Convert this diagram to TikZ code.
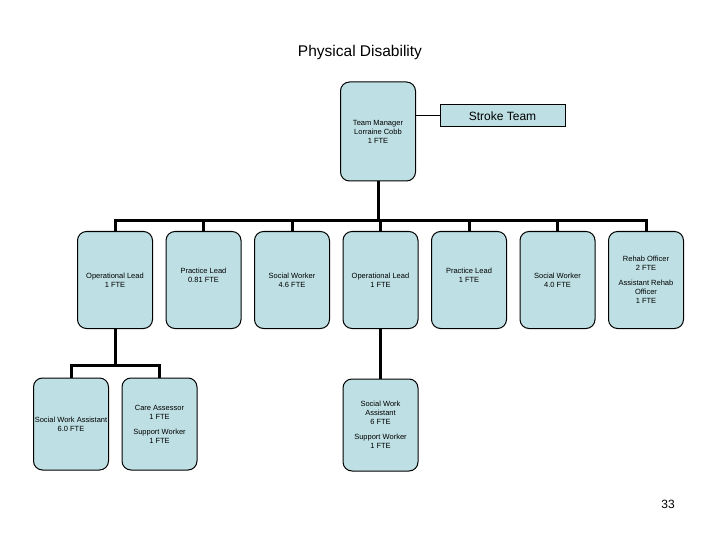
\documentclass[tikz,border=0pt]{standalone}
\usepackage{fontspec}
\setmainfont{Liberation Sans}
\usetikzlibrary{positioning,calc}
\definecolor{BoxBlue}{HTML}{BEDFE3}

\begin{document}
\begin{tikzpicture}[
    x=1pt, y=-1pt,
    font=\fontsize{7.5}{9}\selectfont,
    node distance=12.5pt,
    % rounded post boxes of the chart
    post/.style={rectangle, rounded corners=9pt, draw=black, line width=1pt, fill=BoxBlue, minimum width=75pt, minimum height=97pt, inner sep=0pt, align=center},
    banner/.style={rectangle, draw=black, line width=1pt, fill=BoxBlue, minimum width=125pt, minimum height=22pt, font=\fontsize{12}{14}\selectfont},
    link/.style={line width=3pt, draw=black},
    tie/.style={line width=1pt, draw=black}
]
\useasboundingbox (0,0) rectangle (720,540);

\node[font=\fontsize{15.5}{18}\selectfont] (title) at (360,52) {Physical Disability};

% top of the chart
\node[post, minimum height=99pt] (mgr) at (378,131.5) {Team Manager\\Lorraine Cobb\\1 FTE};
\node[banner] (stroke) at (502.5,116) {Stroke Team};
\draw[tie] (stroke.west) -- (stroke.west -| mgr.east);

% second row
\node[post] (opA) at (115,280) {Operational Lead\\1 FTE};
\node[post, right=of opA] (prA) {Practice Lead\\0.81 FTE\\[0pt]};
\node[post, right=of prA] (swA) {Social Worker\\4.6 FTE};
\node[post, right=of swA] (opB) {Operational Lead\\1 FTE};
\node[post, right=of opB] (prB) {Practice Lead\\1 FTE\\[0pt]};
\node[post, right=of prB] (swB) {Social Worker\\4.0 FTE};
\node[post, right=of swB] (rehab) {Rehab Officer\\2 FTE\\[6pt]Assistant Rehab\\Officer\\1 FTE};

\coordinate (busTop) at (0,221);
\foreach \n in {opA,prA,swA,opB,prB,swB,rehab}
    \draw[link] (mgr.south) |- (\n.north |- busTop) -- (\n.north);

% third row
\node[post, minimum height=92pt] (swaA) at (71,424) {Social Work Assistant\\6.0 FTE};
\node[post, minimum height=92pt, right=of swaA] (care) {Care Assessor\\1 FTE\\[6pt]Support Worker\\1 FTE};
\node[post, minimum height=92pt, below=49.5pt of opB] (swaB) {Social Work\\Assistant\\6 FTE\\[6pt]Support Worker\\1 FTE};

\coordinate (busLow) at (0,365);
\foreach \n in {swaA,care}
    \draw[link] (opA.south) |- (\n.north |- busLow) -- (\n.north);
\draw[link] (opB.south) -- (swaB.north);

\node[font=\fontsize{12}{14}\selectfont] (page) at (668,504) {33};

\end{tikzpicture}
\end{document}
